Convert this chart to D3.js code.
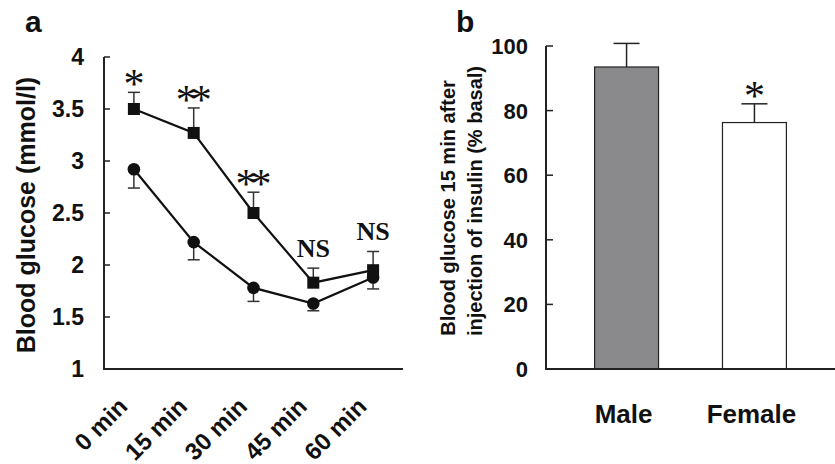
<!DOCTYPE html>
<html>
<head>
<meta charset="utf-8">
<script src="https://cdn.jsdelivr.net/npm/d3@7"></script>
<style>
  body { margin: 0; background: #fff; }
  text { font-family: "Liberation Sans", Arial, sans-serif; font-weight: bold; fill: #111; }
  .sig { font-family: "Liberation Serif", "Times New Roman", serif; }
</style>
</head>
<body>
<script>
const W = 835, H = 464;

// panel a data
const times = ["0 min", "15 min", "30 min", "45 min", "60 min"];
const squareMean = [3.50, 3.27, 2.50, 1.83, 1.95];
const squareErr = [0.16, 0.24, 0.20, 0.14, 0.18];
const circleMean = [2.92, 2.22, 1.78, 1.63, 1.88];
const circleErr = [0.18, 0.17, 0.13, 0.07, 0.11];
const sigLabels = ["*", "**", "**", "NS", "NS"];
const yTicksA = [1, 1.5, 2, 2.5, 3, 3.5, 4];

// panel b data
const sexes = ["Male", "Female"];
const pctMean = [93.5, 76.3];
const pctErr = [7.3, 5.8];
const pctSig = ["", "*"];
const yTicksB = [0, 20, 40, 60, 80, 100];

const svg = d3.select("body").append("svg")
    .attr("width", W)
    .attr("height", H);

svg.append("rect").attr("width", W).attr("height", H).attr("fill", "#fff");

// ---------- panel a ----------
const xA = d3.scalePoint().domain(times).range([104, 403]).padding(0.5);
const yA = d3.scaleLinear().domain([1, 4]).range([369, 57]);

const ga = svg.append("g");

ga.append("text").attr("x", 25).attr("y", 32).style("font-size", "30px").text("a");

// axes
ga.append("line").attr("x1", 104).attr("x2", 104).attr("y1", yA(4)).attr("y2", yA(1))
    .attr("stroke", "#222").attr("stroke-width", 2);
ga.append("line").attr("x1", 103).attr("x2", 403).attr("y1", yA(1)).attr("y2", yA(1))
    .attr("stroke", "#222").attr("stroke-width", 2);

ga.selectAll(".tickA").data(yTicksA).enter().append("line")
    .attr("x1", 104).attr("x2", 110)
    .attr("y1", d => yA(d)).attr("y2", d => yA(d))
    .attr("stroke", "#222").attr("stroke-width", 1.5);

ga.selectAll(".tlabA").data(yTicksA).enter().append("text")
    .attr("x", 84).attr("y", d => yA(d))
    .attr("dy", "0.36em")
    .attr("text-anchor", "end")
    .style("font-size", "23px")
    .text(d => d);

ga.selectAll(".xlabA").data(times).enter().append("text")
    .attr("transform", d => `translate(${xA(d) - 5},408) rotate(-45)`)
    .attr("text-anchor", "end")
    .style("font-size", "24px")
    .text(d => d);

ga.append("text")
    .attr("transform", "translate(35,215) rotate(-90)")
    .attr("text-anchor", "middle")
    .style("font-size", "25px")
    .text("Blood glucose (mmol/l)");

// error bars
function errBars(mean, err, dir) {
  const g = ga.append("g").attr("stroke", "#333").attr("stroke-width", 1.5);
  g.selectAll("line.v").data(times).enter().append("line")
      .attr("x1", d => xA(d)).attr("x2", d => xA(d))
      .attr("y1", (d, i) => yA(mean[i]))
      .attr("y2", (d, i) => yA(mean[i] + dir * err[i]));
  g.selectAll("line.c").data(times).enter().append("line")
      .attr("x1", d => xA(d) - 6).attr("x2", d => xA(d) + 6)
      .attr("y1", (d, i) => yA(mean[i] + dir * err[i]))
      .attr("y2", (d, i) => yA(mean[i] + dir * err[i]));
}
errBars(circleMean, circleErr, -1);
errBars(squareMean, squareErr, 1);

const line = d3.line().x((d, i) => xA(times[i])).y(d => yA(d));

ga.append("path").datum(circleMean).attr("d", line)
    .attr("fill", "none").attr("stroke", "#111").attr("stroke-width", 2.2);
ga.selectAll(".circ").data(circleMean).enter().append("circle")
    .attr("cx", (d, i) => xA(times[i])).attr("cy", d => yA(d))
    .attr("r", 6.3).attr("fill", "#111");

ga.append("path").datum(squareMean).attr("d", line)
    .attr("fill", "none").attr("stroke", "#111").attr("stroke-width", 2.2);
ga.selectAll(".sq").data(squareMean).enter().append("rect")
    .attr("x", (d, i) => xA(times[i]) - 6).attr("y", d => yA(d) - 6)
    .attr("width", 12).attr("height", 12).attr("fill", "#111");

// significance marks
ga.selectAll(".sigA").data(sigLabels).enter().append("text")
    .attr("class", "sig")
    .attr("x", (d, i) => xA(times[i]) + (d === "**" ? -3 : 0))
    .attr("y", (d, i) => yA(squareMean[i] + squareErr[i]) + (d === "NS" ? -11 : 6))
    .attr("text-anchor", "middle")
    .style("font-size", d => d === "NS" ? "26px" : "42px")
    .style("letter-spacing", d => d === "**" ? "-6px" : "0px")
    .style("font-weight", d => d === "NS" ? "bold" : "normal")
    .text(d => d);

// ---------- panel b ----------
const xB = d3.scaleBand().domain(sexes).range([546, 835]).paddingInner(0.5).paddingOuter(0.38);
const yB = d3.scaleLinear().domain([0, 100]).range([369, 46]);

const gb = svg.append("g");

gb.append("text").attr("x", 456).attr("y", 32).style("font-size", "30px").text("b");

gb.selectAll(".bar").data(sexes).enter().append("rect")
    .attr("x", d => xB(d))
    .attr("y", (d, i) => yB(pctMean[i]))
    .attr("width", xB.bandwidth())
    .attr("height", (d, i) => yB(0) - yB(pctMean[i]))
    .attr("fill", (d, i) => i === 0 ? "#8a8a8c" : "#fff")
    .attr("stroke", "#222").attr("stroke-width", 1.2);

const eb = gb.append("g").attr("stroke", "#222").attr("stroke-width", 1.5);
eb.selectAll("line.v").data(sexes).enter().append("line")
    .attr("x1", d => xB(d) + xB.bandwidth() / 2).attr("x2", d => xB(d) + xB.bandwidth() / 2)
    .attr("y1", (d, i) => yB(pctMean[i]))
    .attr("y2", (d, i) => yB(pctMean[i] + pctErr[i]));
eb.selectAll("line.c").data(sexes).enter().append("line")
    .attr("x1", d => xB(d) + xB.bandwidth() / 2 - 13).attr("x2", d => xB(d) + xB.bandwidth() / 2 + 13)
    .attr("y1", (d, i) => yB(pctMean[i] + pctErr[i]))
    .attr("y2", (d, i) => yB(pctMean[i] + pctErr[i]));

gb.selectAll(".sigB").data(pctSig).enter().append("text")
    .attr("class", "sig")
    .attr("x", (d, i) => xB(sexes[i]) + xB.bandwidth() / 2)
    .attr("y", (d, i) => yB(pctMean[i] + pctErr[i]) + 6)
    .attr("text-anchor", "middle")
    .style("font-size", "42px").style("font-weight", "normal")
    .text(d => d);

gb.append("line").attr("x1", 546).attr("x2", 546).attr("y1", yB(100)).attr("y2", yB(0))
    .attr("stroke", "#222").attr("stroke-width", 2);
gb.append("line").attr("x1", 545).attr("x2", 835).attr("y1", yB(0)).attr("y2", yB(0))
    .attr("stroke", "#222").attr("stroke-width", 2);

gb.selectAll(".tickB").data(yTicksB).enter().append("line")
    .attr("x1", 546).attr("x2", 553)
    .attr("y1", d => yB(d)).attr("y2", d => yB(d))
    .attr("stroke", "#222").attr("stroke-width", 1.5);

gb.selectAll(".tlabB").data(yTicksB).enter().append("text")
    .attr("x", 528).attr("y", d => yB(d))
    .attr("dy", "0.36em")
    .attr("text-anchor", "end")
    .style("font-size", "22px")
    .text(d => d);

gb.selectAll(".xlabB").data(sexes).enter().append("text")
    .attr("x", d => xB(d) + xB.bandwidth() / 2 - 3)
    .attr("y", 423)
    .attr("text-anchor", "middle")
    .style("font-size", "26px")
    .text(d => d);

gb.append("text")
    .attr("transform", "translate(455,208) rotate(-90)")
    .attr("text-anchor", "middle")
    .style("font-size", "20px")
    .text("Blood glucose 15 min after");
gb.append("text")
    .attr("transform", "translate(482,201) rotate(-90)")
    .attr("text-anchor", "middle")
    .style("font-size", "20px")
    .text("injection of insulin (% basal)");
</script>
</body>
</html>
